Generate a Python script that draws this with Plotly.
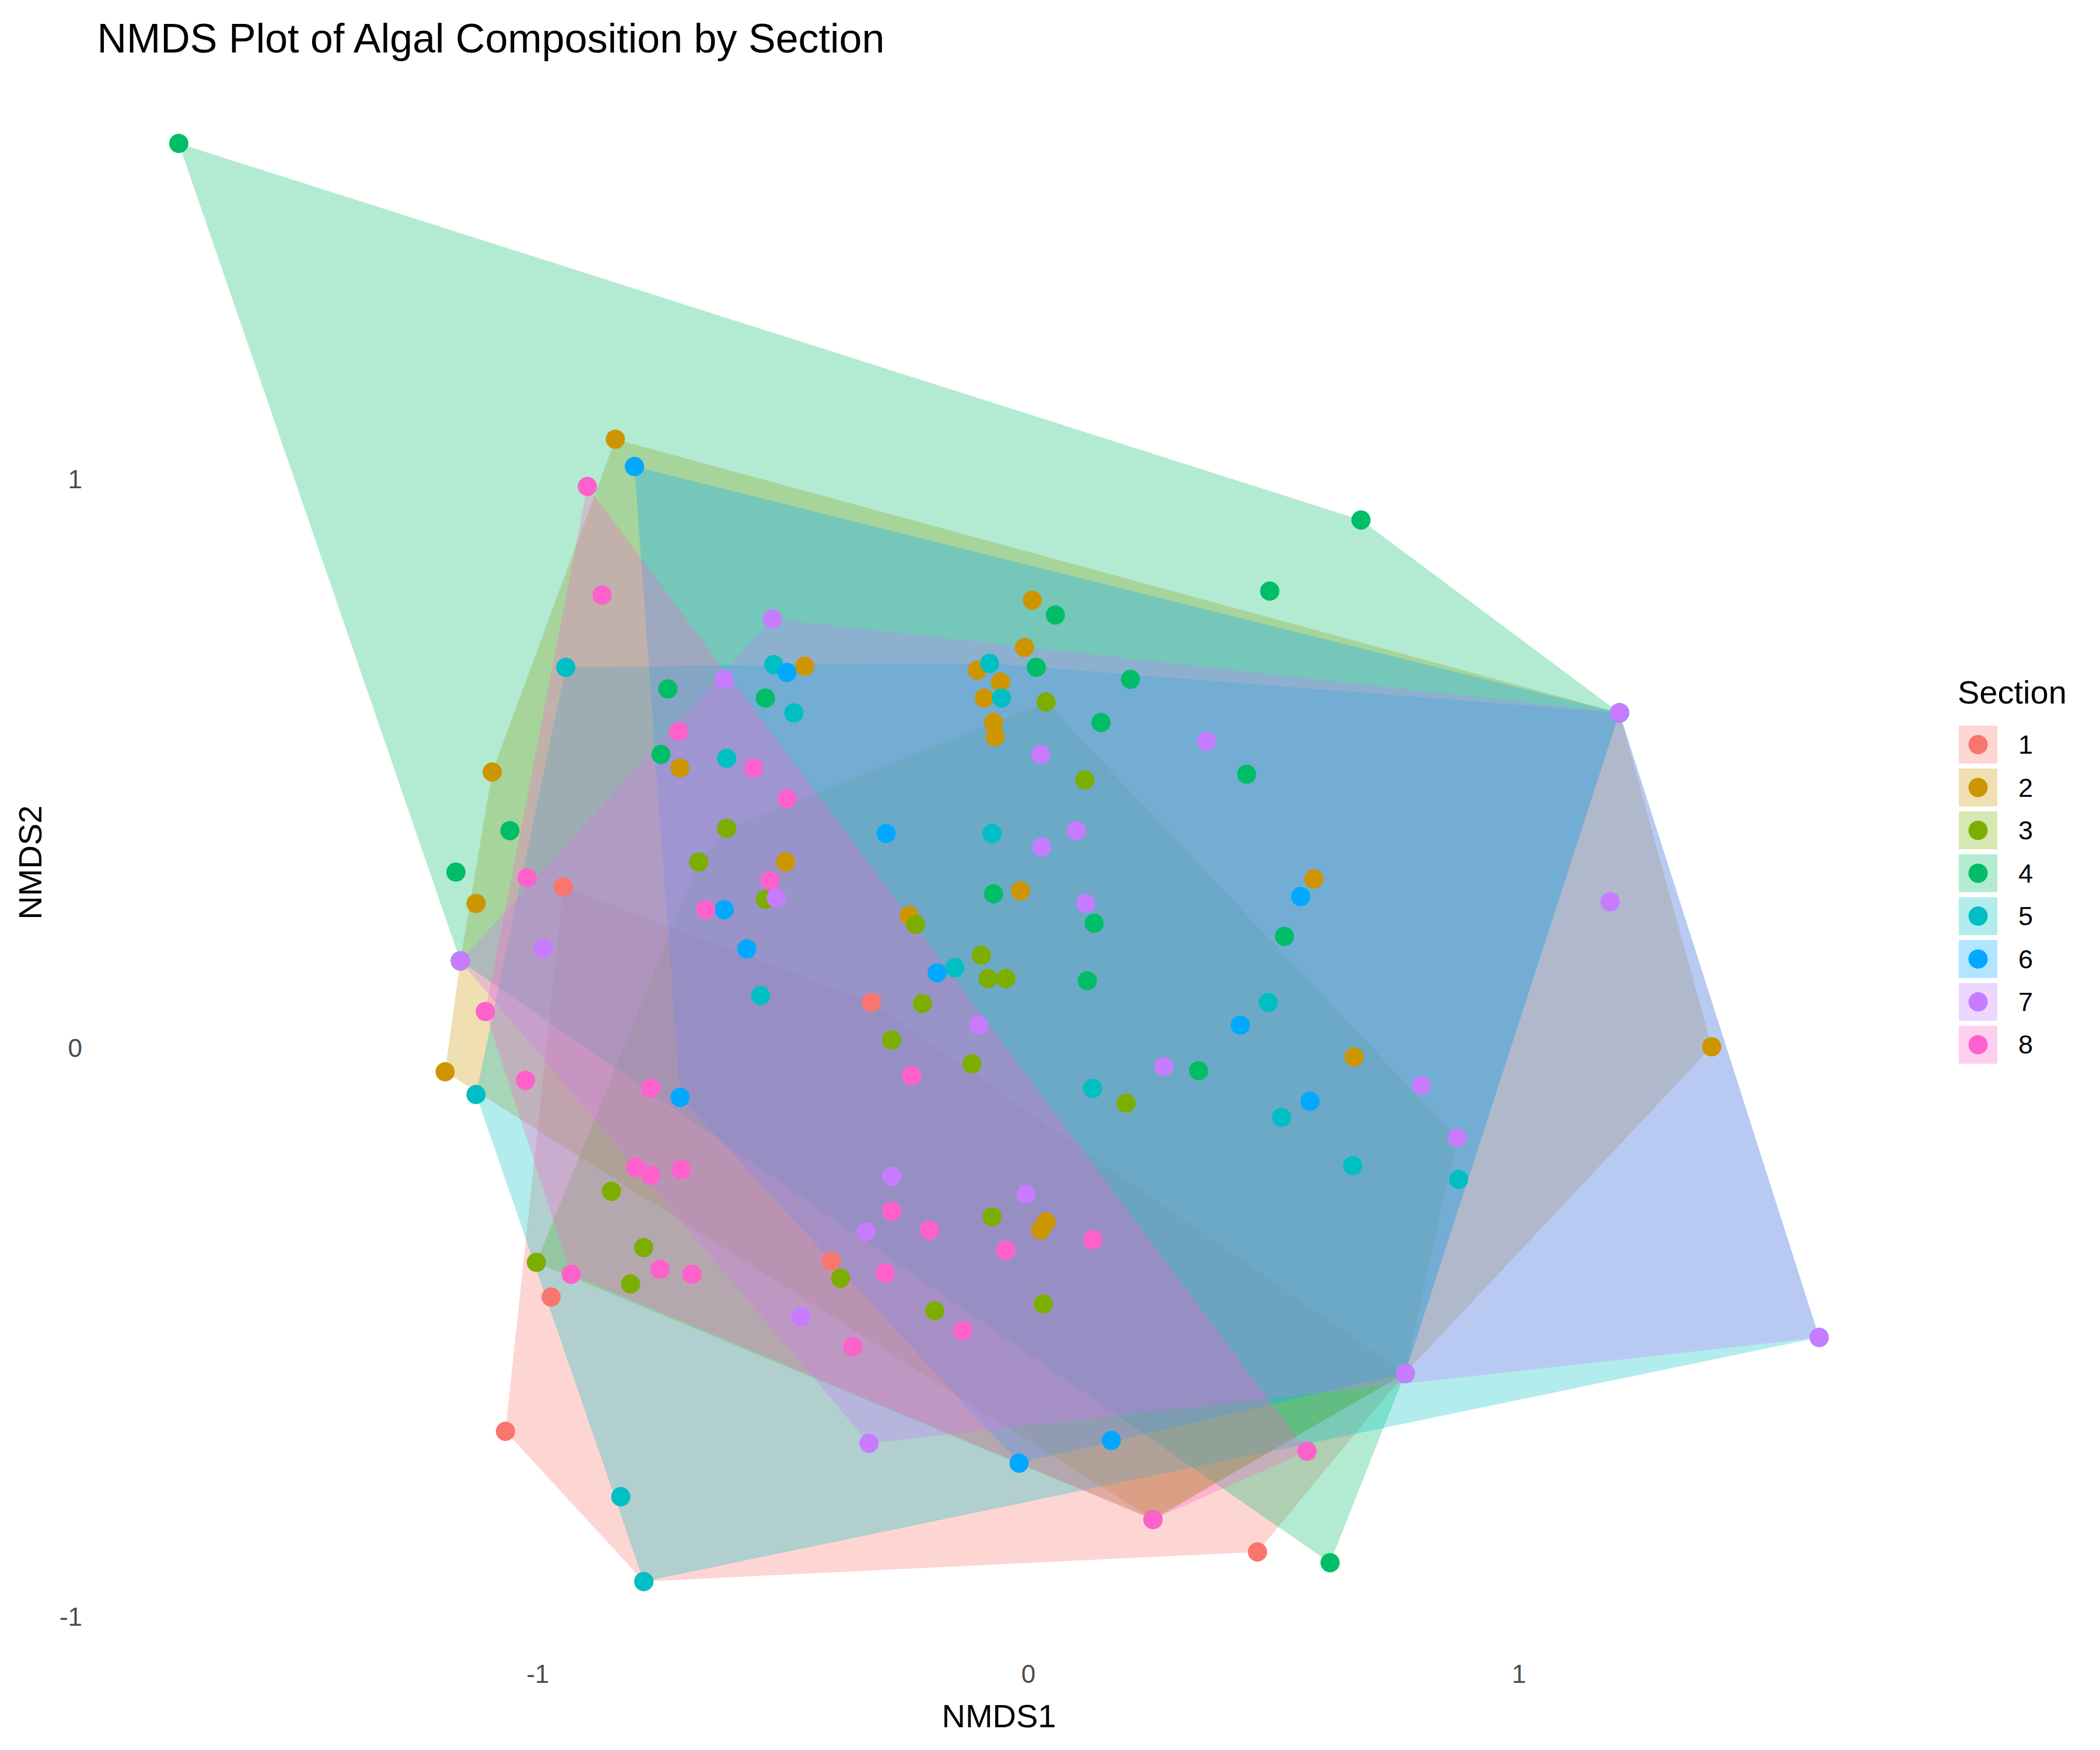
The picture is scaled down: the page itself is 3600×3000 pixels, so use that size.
import plotly.graph_objects as go

# NMDS scores, one pair of lists per section
s1_x = [-0.320, -0.948, -0.973, -1.066, -0.402, 0.467, -0.784, 0.768]
s1_y = [0.080, 0.283, -0.438, -0.674, -0.375, -0.886, -0.938, -0.572]

s2_x = [-0.842, -1.093, -1.126, -1.189, -0.456, -0.710, -0.495, 0.008, -0.008, -0.057, -0.104,
        -0.090, -0.071, -0.068, -0.243, -0.016, 0.582, 0.664, 0.036, 0.025, 1.393,
        1.205, 0.768, 0.254, -1.158]
s2_y = [1.070, 0.485, 0.254, -0.042, 0.671, 0.492, 0.327, 0.787, 0.704, 0.643, 0.664,
        0.615, 0.572, 0.547, 0.233, 0.276, 0.297, -0.016, -0.306, -0.320, 0.002,
        0.589, -0.572, -0.829, 0.153]

s3_x = [0.036, 0.115, -0.615, -0.672, -0.536, -0.230, -0.096, -0.082, -0.046, -0.216, -0.279,
        -0.115, 0.199, -0.850, -0.784, -1.003, -0.811, -0.383, -0.074, -0.191, 0.030,
        0.874, 0.768, 0.254]
s3_y = [0.608, 0.471, 0.386, 0.327, 0.261, 0.217, 0.163, 0.122, 0.122, 0.078, 0.014,
        -0.028, -0.097, -0.252, -0.351, -0.377, -0.415, -0.405, -0.297, -0.462, -0.450,
        -0.158, -0.572, -0.829]

s4_x = [-1.732, 0.678, 0.492, 0.055, 0.016, 0.208, 0.148, -0.735, -0.536, -0.749, -1.057,
        -1.167, 0.445, -0.071, 0.134, 0.522, 0.120, 0.347, 0.615, 1.205, 0.768, -1.158]
s4_y = [1.590, 0.928, 0.803, 0.761, 0.669, 0.648, 0.572, 0.631, 0.615, 0.516, 0.382,
        0.309, 0.481, 0.271, 0.219, 0.196, 0.118, -0.040, -0.905, 0.589, -0.572, 0.153]

s5_x = [-0.943, -0.519, -0.478, -0.615, -0.079, -0.055, -0.074, -0.150, -0.546, 0.489, 0.131,
        0.516, 0.661, 0.877, -1.126, -0.831, -0.784, 1.205, 1.612]
s5_y = [0.669, 0.674, 0.589, 0.509, 0.676, 0.615, 0.377, 0.141, 0.092, 0.080, -0.071,
        -0.122, -0.207, -0.231, -0.082, -0.789, -0.938, 0.589, -0.509]

s6_x = [-0.803, -0.492, -0.290, -0.620, -0.574, -0.186, -0.710, 0.432, 0.555, 0.574, 0.169,
        -0.019, 1.205, 0.768]
s6_y = [1.022, 0.660, 0.377, 0.243, 0.174, 0.132, -0.087, 0.040, 0.266, -0.094, -0.690,
        -0.730, 0.589, -0.572]

s7_x = [-0.522, -0.620, 0.025, 0.363, 0.098, 0.027, 0.117, -0.514, -0.989, -1.158, -0.101,
        0.276, 0.801, 0.874, 1.186, 1.205, 1.612, 0.768, -0.279, -0.005, -0.331, -0.464, -0.325]
s7_y = [0.754, 0.648, 0.516, 0.539, 0.382, 0.353, 0.254, 0.264, 0.174, 0.153, 0.040,
        -0.033, -0.066, -0.158, 0.257, 0.589, -0.509, -0.572, -0.226, -0.257, -0.323, -0.473, -0.695]

s8_x = [-0.899, -0.869, -0.713, -0.560, -0.492, -1.022, -0.527, -0.658, -1.107, -1.025, -0.770,
        -0.238, -0.801, -0.770, -0.708, -0.279, -0.202, -0.046, 0.131, -0.932, -0.751, -0.686,
        -0.292, -0.358, -0.134, 0.568, 0.254]
s8_y = [0.987, 0.796, 0.556, 0.492, 0.438, 0.299, 0.294, 0.243, 0.064, -0.057, -0.071,
        -0.049, -0.210, -0.224, -0.214, -0.287, -0.320, -0.356, -0.337, -0.398, -0.389, -0.398,
        -0.396, -0.525, -0.497, -0.709, -0.829]

sections = ["1", "2", "3", "4", "5", "6", "7", "8"]
xs = [s1_x, s2_x, s3_x, s4_x, s5_x, s6_x, s7_x, s8_x]
ys = [s1_y, s2_y, s3_y, s4_y, s5_y, s6_y, s7_y, s8_y]
colors = ["#F8766D", "#CD9600", "#7CAE00", "#00BE67", "#00BFC4", "#00A9FF", "#C77CFF", "#FF61CC"]

W, H = 3600, 3000
ML, MR, MT, MB = 158, 349, 115, 174
PT = 33  # point diameter


def hull(px, py):
    pts = sorted(set(zip(px, py)))

    def cross(o, a, b):
        return (a[0] - o[0]) * (b[1] - o[1]) - (a[1] - o[1]) * (b[0] - o[0])

    lower, upper = [], []
    for p in pts:
        while len(lower) >= 2 and cross(lower[-2], lower[-1], p) <= 0:
            lower.pop()
        lower.append(p)
    for p in reversed(pts):
        while len(upper) >= 2 and cross(upper[-2], upper[-1], p) <= 0:
            upper.pop()
        upper.append(p)
    ring = lower[:-1] + upper[:-1]
    ring.append(ring[0])
    return [p[0] for p in ring], [p[1] for p in ring]


def rgba(hex_col, a):
    h = hex_col.lstrip("#")
    return "rgba(%d,%d,%d,%s)" % (int(h[0:2], 16), int(h[2:4], 16), int(h[4:6], 16), a)


def px_x(p):
    return (p - ML) / (W - ML - MR)


def px_y(p):
    return 1 - (p - MT) / (H - MT - MB)


fig = go.Figure()

# hulls first (ggplot draws the polygon layer under the points)
for i, sec in enumerate(sections):
    hx, hy = hull(xs[i], ys[i])
    fig.add_trace(go.Scatter(
        x=hx, y=hy, mode="lines", fill="toself",
        fillcolor=rgba(colors[i], 0.3), line=dict(width=0, color=colors[i]),
        name=sec, hoverinfo="skip", showlegend=False,
    ))

# points on top; section 7 last so it sits on the shared positions
for i in [0, 1, 2, 3, 4, 5, 7, 6]:
    fig.add_trace(go.Scatter(
        x=xs[i], y=ys[i], mode="markers",
        marker=dict(size=PT, color=colors[i]),
        name=sections[i], showlegend=False,
    ))

# ggplot-style legend: translucent key box with the point in the middle
shapes, notes = [], []
key_left, key_w, key_h, key_top, key_step = 3350, 66, 65, 1236, 73.5
for i, sec in enumerate(sections):
    top = key_top + i * key_step
    cx, cy = key_left + key_w / 2, top + key_h / 2
    shapes.append(dict(type="rect", xref="paper", yref="paper",
                       x0=px_x(key_left), x1=px_x(key_left + key_w),
                       y0=px_y(top + key_h), y1=px_y(top),
                       fillcolor=rgba(colors[i], 0.3), line=dict(width=0)))
    shapes.append(dict(type="circle", xref="paper", yref="paper",
                       x0=px_x(cx - PT / 2), x1=px_x(cx + PT / 2),
                       y0=px_y(cy + PT / 2), y1=px_y(cy - PT / 2),
                       fillcolor=colors[i], line=dict(width=0)))
    notes.append(dict(text=sec, xref="paper", yref="paper", x=px_x(3450), y=px_y(cy),
                      xanchor="left", yanchor="middle", showarrow=False,
                      font=dict(size=45, color="black")))
notes.append(dict(text="Section", xref="paper", yref="paper", x=px_x(3346), y=px_y(1178),
                  xanchor="left", yanchor="middle", showarrow=False,
                  font=dict(size=56, color="black")))

fig.update_layout(
    width=W, height=H,
    paper_bgcolor="white", plot_bgcolor="white",
    font=dict(family="Liberation Sans, Arial, sans-serif", color="black"),
    margin=dict(l=ML, r=MR, t=MT, b=MB),
    title=dict(text="NMDS Plot of Algal Composition by Section", x=0.044, xanchor="left",
               y=0.981, yanchor="middle", font=dict(size=70, color="black")),
    showlegend=False,
    shapes=shapes,
    annotations=notes,
)

fig.update_xaxes(range=[-1.899, 1.779], tickvals=[-1, 0, 1], ticktext=["-1", "0", "1"],
                 showgrid=False, zeroline=False, showline=False, ticks="",
                 ticklabelstandoff=6, tickfont=dict(size=44, color="#4D4D4D"),
                 title=dict(text="NMDS1", font=dict(size=56, color="black"), standoff=28),
                 automargin=False)
fig.update_yaxes(range=[-1.064, 1.716], tickvals=[-1, 0, 1], ticktext=["-1", "0", "1"],
                 showgrid=False, zeroline=False, showline=False, ticks="",
                 ticklabelstandoff=24, tickfont=dict(size=44, color="#4D4D4D"),
                 title=dict(text="NMDS2", font=dict(size=56, color="black"), standoff=12),
                 automargin=False)

fig.write_html("out.html")
